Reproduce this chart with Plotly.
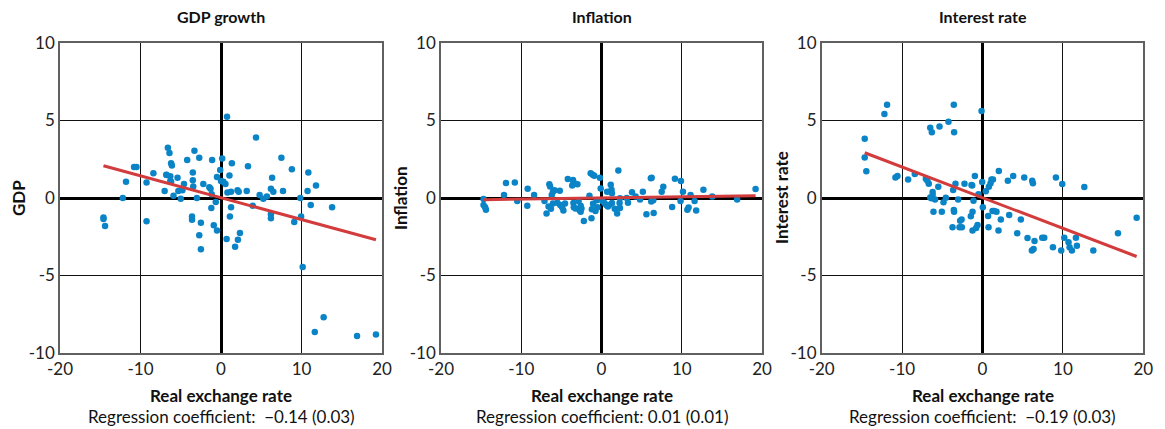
import plotly.graph_objects as go

# ---------------- data ----------------
gdp_x = [-14.6, -14.6, -14.4, -12.2, -11.8, -10.8, -10.5, -9.25, -9.25, -8.4,
         -7.0, -6.8, -6.6, -6.4, -6.3, -6.2, -6.1, -6.3, -5.9, -5.4,
         -5.3, -5.0, -4.8, -4.6, -4.2, -3.5, -3.5, -3.45, -3.3, -3.6,
         -3.6, -3.0, -2.7, -2.7, -2.5, -2.5, -2.2, -1.45, -1.3, -1.15,
         -1.2, -1.1, -0.9, -0.65, -0.5, -0.5, -0.1, 0.0, 0.15, 0.3,
         0.55, 0.75, 0.7, 0.8, 1.05, 1.1, 1.25, 1.25, 1.35, 1.75,
         2.05, 2.1, 2.2, 2.35, 3.2, 3.35, 3.95, 4.35, 4.8, 5.25,
         5.7, 6.2, 6.2, 6.2, 6.35, 6.5, 7.5, 7.7, 8.8, 9.1,
         9.85, 9.95, 10.15, 10.75, 10.85, 11.15, 11.65, 11.8, 12.75, 13.8,
         16.9, 19.25, -6.2, -6.75]
gdp_y = [-1.25, -1.35, -1.8, 0.0, 1.05, 2.0, 2.0, 1.0, -1.5, 1.6,
         0.45, 1.5, 3.25, 2.9, 1.4, 2.25, 2.1, 1.1, 0.15, 1.3,
         0.45, -0.05, 0.5, 0.9, 2.45, 1.65, 1.15, 0.75, 3.05, -1.2,
         -1.4, 0.0, 2.6, -2.4, -1.6, -3.3, 0.9, 0.7, 0.6, 0.25,
         -0.65, 2.45, -1.75, -0.25, 1.35, -2.1, 1.8, 1.1, 2.55, 1.05,
         0.9, 5.25, -2.65, 0.35, 1.45, -1.2, -0.6, 0.4, 2.25, -3.15,
         0.5, -2.7, 0.4, -2.25, 0.45, 2.05, -0.5, 3.9, 0.2, -0.05,
         0.1, 0.6, -1.05, -1.3, 1.3, 0.4, 2.6, 0.45, 1.85, -1.55,
         0.0, -1.2, -4.45, 0.45, 1.65, -0.45, -8.65, 0.8, -7.7, -0.6,
         -8.9, -8.8, 1.05, 1.48]

inf_x = [-14.7, -14.7, -14.5, -14.4, -12.15, -11.9, -10.8, -10.5, -9.25, -9.2,
         -8.4, -7.1, -6.85, -6.6, -6.5, -6.4, -6.3, -6.2, -6.05, -6.05,
         -5.85, -5.5, -5.2, -5.15, -4.9, -4.75, -4.55, -4.2, -3.65, -3.55,
         -3.5, -3.45, -3.5, -3.45, -3.25, -3.0, -2.85, -2.75, -2.6, -2.6,
         -2.5, -2.2, -1.5, -1.35, -1.2, -1.25, -1.1, -1.05, -0.9, -0.75,
         -0.6, -0.5, -0.2, -0.1, 0.1, 0.37, 0.6, 0.7, 0.8, 0.95,
         1.15, 1.25, 1.3, 1.3, 1.65, 1.95, 2.1, 2.25, 2.3, 2.3,
         3.15, 3.3, 3.8, 4.25, 4.8, 5.15, 5.6, 6.15, 6.25, 6.2,
         6.45, 6.5, 7.5, 7.7, 8.8, 9.15, 9.85, 9.9, 10.15, 10.7,
         10.85, 11.1, 11.6, 11.8, 12.7, 13.8, 16.9, 19.2]
inf_y = [-0.06, -0.45, -0.6, -0.75, 0.2, 0.97, 1.0, -0.2, -0.5, 0.6,
         0.2, -0.2, -1.0, -0.55, 0.88, 0.75, -0.7, 0.2, 0.4, -0.35,
         0.5, -0.3, 0.47, -0.45, -0.6, -0.8, -0.35, 1.22, 0.8, 1.16,
         1.03, 0.9, -0.32, -0.6, -0.67, 0.88, -0.2, -0.77, -0.5, -0.88,
         -0.67, -1.48, 0.15, 1.6, -0.73, -1.3, 1.5, -0.37, 1.44, -0.84,
         -0.15, -0.6, 1.3, 0.62, -0.2, -0.32, -0.45, 0.4, -0.55, -0.45,
         0.86, 0.54, 0.3, -0.32, -0.7, -1.0, 1.78, -0.32, -0.65, -0.02,
         0.0, -0.3, 0.37, 0.1, -0.09, 0.4, -1.05, 1.27, 1.3, -0.23,
         -0.15, -0.97, 0.4, 0.73, -0.58, 1.25, -0.2, 1.1, 0.4, -0.75,
         -0.62, 0.2, -0.2, -0.8, 0.54, 0.1, -0.09, 0.58]

int_x = [-14.65, -14.65, -14.45, -12.2, -11.87, -10.83, -10.58, -9.25, -8.42, -7.05,
         -6.85, -6.68, -6.5, -6.3, -6.5, -6.35, -6.2, -6.2, -6.1, -5.9,
         -5.5, -5.35, -5.06, -4.85, -4.56, -4.23, -3.73, -3.65, -3.57, -3.53,
         -3.57, -3.53, -3.36, -3.03, -2.78, -2.6, -2.86, -2.57, -2.24, -1.45,
         -1.37, -1.24, -1.24, -1.12, -0.95, -0.79, -0.62, -0.5, -0.12, -0.04,
         0.04, 0.41, 0.7, 0.75, 0.79, 1.0, 1.12, 1.24, 1.45, 1.74,
         2.03, 1.99, 2.28, 3.15, 3.32, 3.82, 4.32, 4.77, 5.19, 5.6,
         6.18, 6.27, 6.14, 6.35, 6.47, 7.43, 7.68, 8.76, 9.13, 9.79,
         9.92, 10.17, 10.7, 10.83, 11.12, 11.62, 11.74, 12.66, 13.78, 16.85,
         19.17, 1.3, -1.28]
int_y = [3.83, 2.62, 1.72, 5.42, 6.02, 1.33, 1.42, 1.2, 1.55, 1.25,
         1.12, 0.92, 4.54, 4.24, 0.04, -0.02, 0.39, 0.19, -0.88, -0.09,
         0.73, 4.62, -0.88, -0.28, 0.02, 4.92, -1.89, 0.52, 6.02, 4.24,
         -0.77, -0.88, 0.92, -0.09, -1.46, -1.38, -1.89, -1.89, 0.92, -1.18,
         0.84, -0.88, -2.09, -0.17, 1.42, -1.94, -1.74, 0.24, 5.61, 1.03,
         -0.6, 0.43, -1.16, -1.89, 0.73, 0.95, 1.2, -0.84, -0.84, -0.88,
         1.74, -2.09, -1.38, 1.12, -1.1, 1.42, -2.28, -1.38, 1.33, -2.58,
         1.12, 0.95, -3.38, -3.29, -2.77, -2.56, -2.56, -3.18, 1.33, -3.38,
         0.9, -2.56, -2.86, -3.18, -3.38, -2.56, -3.08, 0.71, -3.38, -2.28,
         -1.27, 1.2, 0.8]

titles = ["GDP growth", "Inflation", "Interest rate"]
y_titles = ["GDP", "Inflation", "Interest rate"]
x_title = "Real exchange rate"
coef_labels = ["Regression coefficient:  \u22120.14 (0.03)",
               "Regression coefficient: 0.01 (0.01)",
               "Regression coefficient:  \u22120.19 (0.03)"]
slopes = [-0.141, 0.0075, -0.198]
intercepts = [0.02, 0.0, 0.02]
axis_ticks = [-20, -10, 0, 10, 20]
y_ticks = [-10, -5, 0, 5, 10]

# --------------- figure ---------------
VW, VH = 1165, 429          # viewport
PAGE = 8                    # default body margin of the html page
FW, FH = VW - 2 * PAGE, VH - PAGE
ML, MR, MT, MB = 10, 10, 30, 60
PW, PH = FW - ML - MR, FH - MT - MB
FONT = "Lato"
DOT = "#0a84c6"
LINE = "#d23c3c"


def px_x(p):
    return (p - PAGE - ML) / PW


def px_y(p):
    return (FH - MB - (p - PAGE)) / PH


panel_px = [(60, 382), (441, 762), (821.7, 1143.3)]
x_domains = [(px_x(a), px_x(b)) for a, b in panel_px]
y_domain = (px_y(353), px_y(43))
ytitle_px = [18, 400, 781]

fig = go.Figure()
series = [(gdp_x, gdp_y), (inf_x, inf_y), (int_x, int_y)]

for i, (xs, ys) in enumerate(series):
    xa = "x" if i == 0 else f"x{i+1}"
    ya = "y" if i == 0 else f"y{i+1}"
    fig.add_trace(go.Scatter(x=xs, y=ys, mode="markers", xaxis=xa, yaxis=ya,
                             marker=dict(color=DOT, size=6.5, line=dict(width=0)),
                             showlegend=False, hoverinfo="skip"))
    x0, x1 = min(xs), max(xs)
    fig.add_trace(go.Scatter(x=[x0, x1],
                             y=[intercepts[i] + slopes[i] * x0, intercepts[i] + slopes[i] * x1],
                             mode="lines", xaxis=xa, yaxis=ya,
                             line=dict(color=LINE, width=3),
                             showlegend=False, hoverinfo="skip"))

    ax_common = dict(showgrid=True, gridcolor="#111111", gridwidth=1,
                     zeroline=True, zerolinecolor="#000000", zerolinewidth=2.5,
                     showline=True, linecolor="#606060", linewidth=1.5, mirror=True,
                     ticks="", tickfont=dict(family=FONT, size=17, color="#222222"),
                     automargin=False, fixedrange=True)
    xkey = "xaxis" if i == 0 else f"xaxis{i+1}"
    ykey = "yaxis" if i == 0 else f"yaxis{i+1}"
    fig.update_layout(**{
        xkey: dict(domain=list(x_domains[i]), range=[-20, 20], tickvals=axis_ticks,
                   ticktext=[str(v) for v in axis_ticks], anchor=ya, **ax_common),
        ykey: dict(domain=list(y_domain), range=[-10, 10], tickvals=y_ticks,
                   ticktext=[str(v) for v in y_ticks], anchor=xa, **ax_common),
    })
    cx = (x_domains[i][0] + x_domains[i][1]) / 2
    ann = dict(xref="paper", yref="paper", showarrow=False,
               xanchor="center", yanchor="middle")
    fig.add_annotation(text=f"<b>{titles[i]}</b>", x=cx, y=px_y(17),
                       font=dict(family=FONT, size=16, color="#111111"), **ann)
    fig.add_annotation(text=f"<b>{x_title}</b>", x=cx, y=px_y(395),
                       font=dict(family=FONT, size=17, color="#111111"), **ann)
    fig.add_annotation(text=coef_labels[i], x=cx, y=px_y(416),
                       font=dict(family=FONT, size=17, color="#111111"), **ann)
    fig.add_annotation(text=f"<b>{y_titles[i]}</b>", x=px_x(ytitle_px[i]), y=px_y(198),
                       textangle=-90,
                       font=dict(family=FONT, size=17, color="#111111"), **ann)

fig.update_layout(width=FW, height=FH, margin=dict(l=ML, r=MR, t=MT, b=MB),
                  paper_bgcolor="white", plot_bgcolor="white",
                  font=dict(family=FONT))

fig.write_html("out.html")
